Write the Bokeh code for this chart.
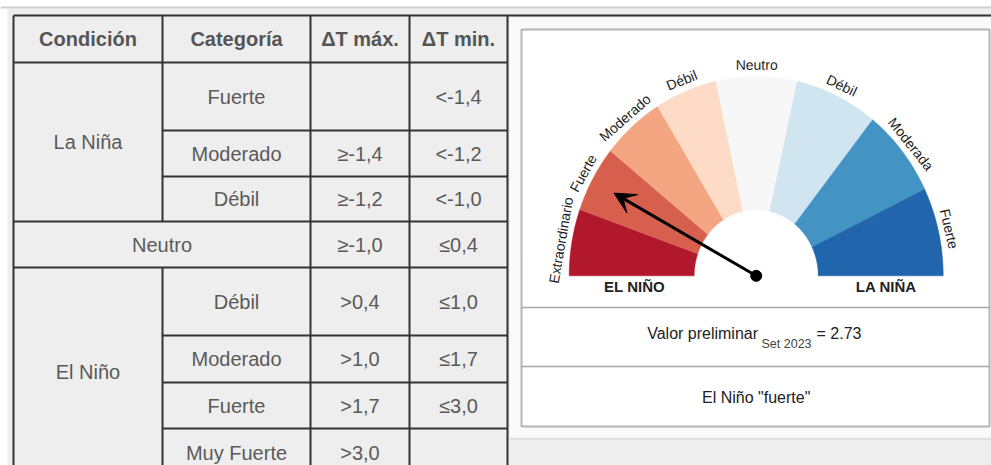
import math
from bokeh.plotting import figure
from bokeh.models import Range1d, Arrow, VeeHead
from bokeh.embed import file_html
from bokeh.resources import INLINE
from bokeh.core.properties import value

# ---------------- data ----------------
headers = ["Condición", "Categoría", "ΔT máx.", "ΔT min."]
conditions = ["La Niña", "Neutro", "El Niño"]
categories = ["Fuerte", "Moderado", "Débil", "", "Débil", "Moderado", "Fuerte", "Muy Fuerte"]
dt_max = ["", "≥-1,4", "≥-1,2", "≥-1,0", ">0,4", ">1,0", ">1,7", ">3,0"]
dt_min = ["<-1,4", "<-1,2", "<-1,0", "≤0,4", "≤1,0", "≤1,7", "≤3,0", ""]

gauge_labels = ["Extraordinario", "Fuerte", "Moderado", "Débil", "Neutro", "Débil", "Moderada", "Fuerte"]
gauge_colors = ["#b2182b", "#d6604d", "#f4a582", "#fddbc7", "#f7f7f7", "#d1e5f0", "#4393c3", "#2166ac"]
gauge_edges_deg = [0, 19.4, 38.8, 58.2, 77.6, 102.7, 128.5, 154.3, 180]  # measured from the left end
side_labels = ["EL NIÑO", "LA NIÑA"]
value_label = "Valor preliminar"
period = "Set 2023"
preliminary_value = 2.73
pointer_deg = 28.6  # measured from the left end
verdict = 'El Niño "fuerte"'

# ---------------- layout (pixels) ----------------
W, H = 991, 465
FONT = value("Liberation Sans")
col_x = [13, 162, 310, 409, 507]
row_y = [15, 62, 130, 176, 221, 267, 335, 382, 428, 476]
LINE = "#333333"
TXT = "#5a5a5a"

p = figure(width=W, height=H, x_range=Range1d(0, W), y_range=Range1d(H, 0),
           output_backend="svg", toolbar_location=None, min_border=0,
           x_axis_location=None, y_axis_location=None, outline_line_color=None,
           background_fill_color="white", border_fill_color="white")
p.grid.visible = False

# page background
p.quad(left=[7], right=[W], top=[8], bottom=[H], fill_color="#eeeeee", line_color=None)
p.segment(x0=[0], y0=[7], x1=[W], y1=[7], line_color="#cfcfcf", line_width=2)

# ---------------- table ----------------
segs = []
segs.append((col_x[0], row_y[0], W, row_y[0]))
segs.append((col_x[0], row_y[1], col_x[4], row_y[1]))
segs.append((col_x[0], row_y[4], col_x[4], row_y[4]))
segs.append((col_x[0], row_y[5], col_x[4], row_y[5]))
for k in (2, 3, 6, 7, 8):
    segs.append((col_x[1], row_y[k], col_x[4], row_y[k]))
segs.append((col_x[0], row_y[0], col_x[0], H + 20))
segs.append((col_x[1], row_y[0], col_x[1], row_y[4]))
segs.append((col_x[1], row_y[5], col_x[1], H + 20))
for c in (2, 3, 4):
    segs.append((col_x[c], row_y[0], col_x[c], H + 20))
p.segment(x0=[s[0] for s in segs], y0=[s[1] for s in segs],
          x1=[s[2] for s in segs], y1=[s[3] for s in segs],
          line_color=LINE, line_width=2)

hx = [(col_x[i] + col_x[i + 1]) / 2 for i in range(4)]
hy = [(row_y[0] + row_y[1]) / 2] * 4
p.text(x=hx, y=hy, text=headers, text_font=FONT, text_font_size="20px",
       text_font_style="bold", text_color="#555555", text_align="center", text_baseline="middle")

cx_cond = [(col_x[0] + col_x[1]) / 2, (col_x[0] + col_x[2]) / 2, (col_x[0] + col_x[1]) / 2]
cy_cond = [(row_y[1] + row_y[4]) / 2, (row_y[4] + row_y[5]) / 2, (row_y[5] + row_y[9]) / 2]
p.text(x=cx_cond, y=cy_cond, text=conditions, text_font=FONT, text_font_size="20px",
       text_color=TXT, text_align="center", text_baseline="middle")

rc = [(row_y[i + 1] + row_y[i + 2]) / 2 for i in range(len(categories))]
for col, vals in ((1, categories), (2, dt_max), (3, dt_min)):
    xs, ys, ts = [], [], []
    for i, t in enumerate(vals):
        if t:
            xs.append((col_x[col] + col_x[col + 1]) / 2)
            ys.append(rc[i])
            ts.append(t)
    p.text(x=xs, y=ys, text=ts, text_font=FONT, text_font_size="20px",
           text_color=TXT, text_align="center", text_baseline="middle")

# ---------------- right panel ----------------
p.quad(left=[509.5], right=[W], top=[17], bottom=[437], fill_color="#fafafa", line_color=None)
p.segment(x0=[509.5], y0=[438.5], x1=[W], y1=[438.5], line_color="#e0e0e0", line_width=2)
p.quad(left=[521], right=[989], top=[29], bottom=[426], fill_color="white",
       line_color="#b5b5b5", line_width=2)
p.segment(x0=[521, 521], y0=[307, 366], x1=[989, 989], y1=[307, 366],
          line_color="#a8a8a8", line_width=1.5)

gcx, gcy, r_out, r_in, ky = 755.7, 275.3, 187.0, 62.0, 1.066


def pt(r, th_deg):
    phi = math.radians(180.0 - th_deg)
    return gcx + r * math.cos(phi), gcy - ky * r * math.sin(phi)


pxs, pys = [], []
for i in range(len(gauge_colors)):
    a0, a1 = gauge_edges_deg[i], gauge_edges_deg[i + 1]
    n = 40
    outer = [pt(r_out, a0 + (a1 - a0) * k / n) for k in range(n + 1)]
    inner = [pt(r_in, a1 - (a1 - a0) * k / n) for k in range(n + 1)]
    poly = outer + inner
    pxs.append([q[0] for q in poly])
    pys.append([q[1] for q in poly])
p.patches(xs=pxs, ys=pys, fill_color=gauge_colors, line_color=gauge_colors, line_width=0.5)

lx, ly, la = [], [], []
for i, lab in enumerate(gauge_labels):
    mid = (gauge_edges_deg[i] + gauge_edges_deg[i + 1]) / 2
    x, y = pt(198, mid)
    lx.append(x)
    ly.append(y)
    la.append(math.radians((180.0 - mid) - 90.0))
p.text(x=lx, y=ly, text=gauge_labels, angle=la, text_font=FONT, text_font_size="14px",
       text_color="#1e1e1e", text_align="center", text_baseline="middle")

p.text(x=[634, 885.7], y=[286, 286], text=side_labels, text_font=FONT, text_font_size="15px",
       text_font_style="bold", text_color="#222222", text_align="center", text_baseline="middle")

tx, ty = pt(162, pointer_deg)
p.add_layout(Arrow(x_start=gcx, y_start=gcy, x_end=tx, y_end=ty, line_width=3, line_color="black",
                   end=VeeHead(size=21, fill_color="black", line_color="black")))
p.scatter(x=[gcx], y=[gcy], size=11, color="black")

p.text(x=[646.7], y=[333], text=[value_label], text_font=FONT, text_font_size="16px",
       text_color="#222222", text_align="left", text_baseline="middle")
p.text(x=[761], y=[343], text=[period], text_font=FONT, text_font_size="12.5px",
       text_color="#444444", text_align="left", text_baseline="middle")
p.text(x=[816], y=[333], text=["= %.2f" % preliminary_value], text_font=FONT, text_font_size="16px",
       text_color="#222222", text_align="left", text_baseline="middle")
p.text(x=[755.7], y=[396.5], text=[verdict], text_font=FONT, text_font_size="16px",
       text_color="#222222", text_align="center", text_baseline="middle")

open("out.html", "w").write(file_html(p, INLINE))
